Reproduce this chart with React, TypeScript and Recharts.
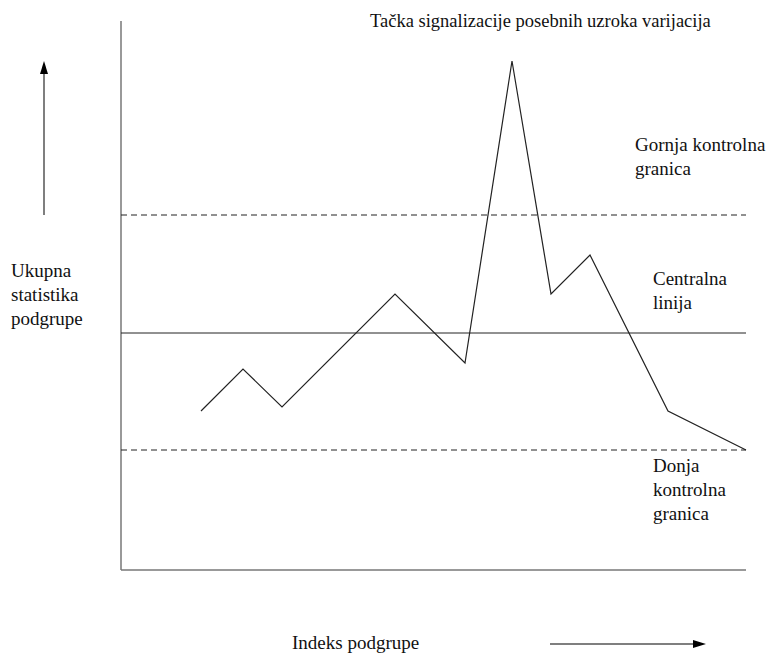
import { LineChart, Line, XAxis, YAxis, ReferenceLine } from "recharts";

// subgroup position (x) and subgroup statistic (y)
const subgroupX = [80, 122, 161, 274, 344, 391, 430, 469, 547, 625];
const statistic = [159, 201, 163, 276, 207, 509, 276, 315, 159, 120];

const upperLimit = 355;
const centerLine = 237;
const lowerLimit = 120;

const data = subgroupX.map((x, i) => ({ x, y: statistic[i] }));

const font = "'Liberation Serif', 'Times New Roman', Times, serif";

const label = (left: number, top: number, lines: string[], size = 19) => (
  <div
    style={{
      position: "absolute",
      left,
      top,
      fontFamily: font,
      fontSize: size,
      lineHeight: "24px",
      color: "#111",
      whiteSpace: "nowrap",
    }}
  >
    {lines.map((l) => (
      <div key={l}>{l}</div>
    ))}
  </div>
);

export default function App() {
  return (
    <div style={{ position: "absolute", left: 0, top: 0, width: 768, height: 655, background: "#fff" }}>
      <LineChart
        width={768}
        height={655}
        data={data}
        margin={{ top: 21, right: 22, bottom: 85, left: 121 }}
      >
        <XAxis type="number" dataKey="x" domain={[0, 625]} hide />
        <YAxis type="number" domain={[0, 549]} hide />
        <ReferenceLine x={0} stroke="#777" strokeWidth={1.5} />
        <ReferenceLine y={0} stroke="#777" strokeWidth={1.5} />
        <ReferenceLine y={upperLimit} stroke="#222" strokeDasharray="6 4" />
        <ReferenceLine y={centerLine} stroke="#222" />
        <ReferenceLine y={lowerLimit} stroke="#222" strokeDasharray="6 4" />
        <Line
          type="linear"
          dataKey="y"
          stroke="#222"
          strokeWidth={1.2}
          dot={false}
          isAnimationActive={false}
        />
      </LineChart>

      <svg width={768} height={655} style={{ position: "absolute", left: 0, top: 0, pointerEvents: "none" }}>
        <line x1={44} y1={215} x2={44} y2={72} stroke="#555" strokeWidth={1.5} />
        <polygon points="44,61 40,74 48,74" fill="#000" />
        <line x1={550} y1={644} x2={695} y2={644} stroke="#555" strokeWidth={1.5} />
        <polygon points="706,644 693,640 693,648" fill="#000" />
      </svg>

      {label(370, 9, ["Tačka signalizacije posebnih uzroka varijacija"], 18.5)}
      {label(11, 259, ["Ukupna", "statistika", "podgrupe"])}
      {label(635, 133, ["Gornja kontrolna", "granica"])}
      {label(653, 267, ["Centralna", "linija"])}
      {label(653, 454, ["Donja", "kontrolna", "granica"])}
      {label(292, 631, ["Indeks podgrupe"])}
    </div>
  );
}
